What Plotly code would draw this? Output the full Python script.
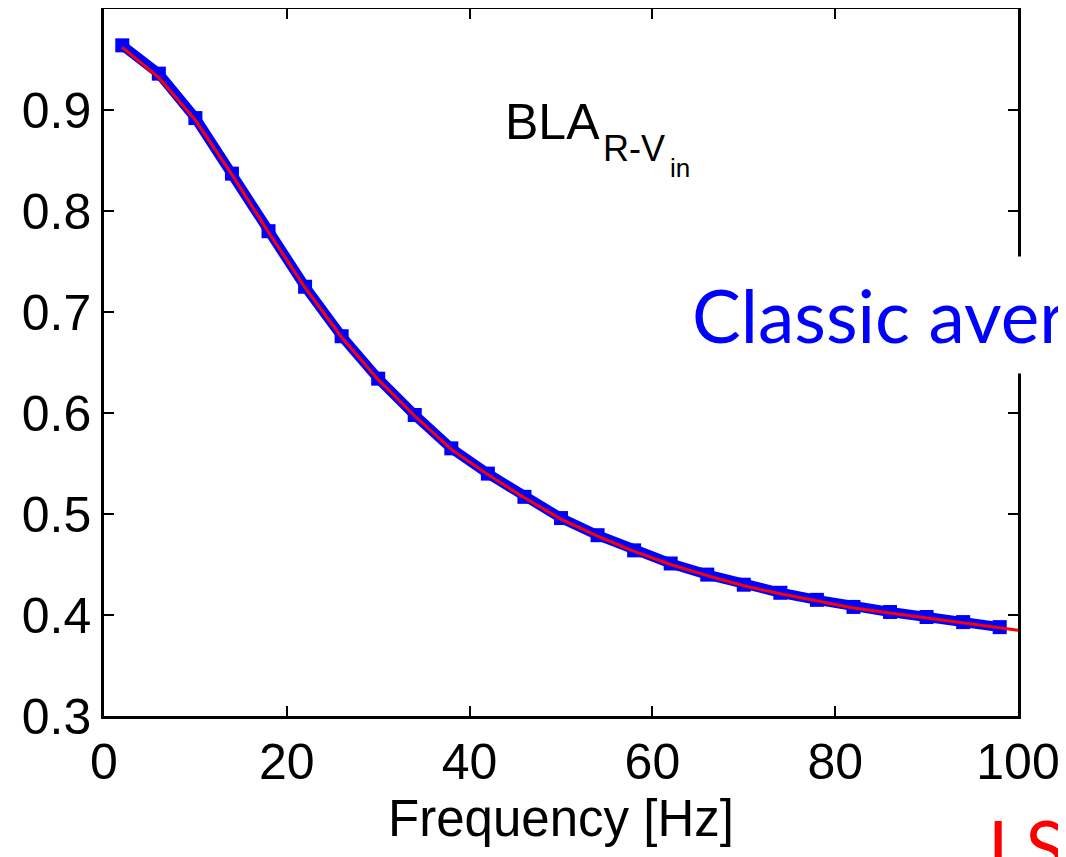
import plotly.graph_objects as go

freq_blue = [2, 6, 10, 14, 18, 22, 26, 30, 34, 38, 42, 46, 50, 54, 58, 62, 66, 70, 74, 78, 82, 86, 90, 94, 98]
bla_classic = [0.964, 0.936, 0.892, 0.837, 0.780, 0.725, 0.676, 0.634, 0.598, 0.565, 0.540, 0.517, 0.496,
               0.479, 0.464, 0.451, 0.440, 0.430, 0.422, 0.415, 0.408, 0.403, 0.398, 0.393, 0.388]
freq_red = [2, 6, 10, 14, 18, 22, 26, 30, 34, 38, 42, 46, 50, 54, 58, 62, 66, 70, 74, 78, 82, 86, 90, 94, 98, 100]
bla_lss = [0.962, 0.932, 0.890, 0.836, 0.779, 0.724, 0.675, 0.633, 0.597, 0.564, 0.539, 0.516, 0.495,
           0.478, 0.463, 0.450, 0.439, 0.429, 0.421, 0.414, 0.407, 0.402, 0.397, 0.392, 0.387, 0.385]
y_ticks = [0.3, 0.4, 0.5, 0.6, 0.7, 0.8, 0.9]
x_ticks = [0, 20, 40, 60, 80, 100]

fig = go.Figure()
fig.add_trace(go.Scatter(x=freq_blue, y=bla_classic, mode="lines+markers",
                         line=dict(color="#0000ff", width=10),
                         marker=dict(symbol="square", size=14, color="#0000ff"),
                         showlegend=False, cliponaxis=False))
fig.add_trace(go.Scatter(x=freq_red, y=bla_lss, mode="lines",
                         line=dict(color="#ff0000", width=3),
                         showlegend=False, cliponaxis=False))

FONT = "Liberation Sans, Arial, sans-serif"
axis_font = dict(family=FONT, size=50, color="black")

# plot area in screen pixels: x 104..1018, y 9..716 (page has an 8px body margin)
X0, X1, Y0, Y1 = 104, 1018, 9, 716


def px(x):
    return (x - X0) / (X1 - X0)


def py(y):
    return (Y1 - y) / (Y1 - Y0)


fig.update_layout(
    width=1058, height=849,
    margin=dict(l=96, r=48, t=1, b=141),
    paper_bgcolor="white", plot_bgcolor="white",
    xaxis=dict(range=[0, 100], tickvals=x_ticks, ticks="inside", ticklen=10, tickwidth=2,
               tickcolor="black", showline=True, linecolor="black", linewidth=2.5, mirror="ticks",
               showgrid=False, zeroline=False, tickfont=axis_font, automargin=False,
               title=dict(text="Frequency [Hz]", font=dict(family=FONT, size=51, color="black"), standoff=12)),
    yaxis=dict(range=[0.3, 1.0], tickvals=y_ticks, ticktext=[f"{v:.1f}" for v in y_ticks],
               ticks="inside", ticklen=10, tickwidth=2, automargin=False,
               tickcolor="black", showline=True, linecolor="black", linewidth=2.5, mirror="ticks",
               showgrid=False, zeroline=False, tickfont=axis_font),
    annotations=[
        dict(text="BLA", xref="paper", yref="paper",
             x=px(503), y=py(92), xanchor="left", yanchor="top",
             showarrow=False, font=dict(family=FONT, size=50, color="black")),
        dict(text="R-V", xref="paper", yref="paper",
             x=px(601), y=py(126), xanchor="left", yanchor="top",
             showarrow=False, font=dict(family=FONT, size=36, color="black")),
        dict(text="in", xref="paper", yref="paper",
             x=px(668), y=py(151), xanchor="left", yanchor="top",
             showarrow=False, font=dict(family=FONT, size=26, color="black")),
        dict(text="Classic average", xref="paper", yref="paper",
             x=px(677), y=py(315), xanchor="left", yanchor="middle",
             showarrow=False, bgcolor="white", borderpad=14,
             font=dict(family="Lato, Open Sans, sans-serif", size=73, color="#0000ff")),
        dict(text="LSS", xref="paper", yref="paper",
             x=px(983), y=py(797), xanchor="left", yanchor="top",
             showarrow=False, bgcolor="white", borderpad=4,
             font=dict(family="Lato, Open Sans, sans-serif", size=73, color="#ff0000")),
    ],
)

fig.write_html("out.html")
